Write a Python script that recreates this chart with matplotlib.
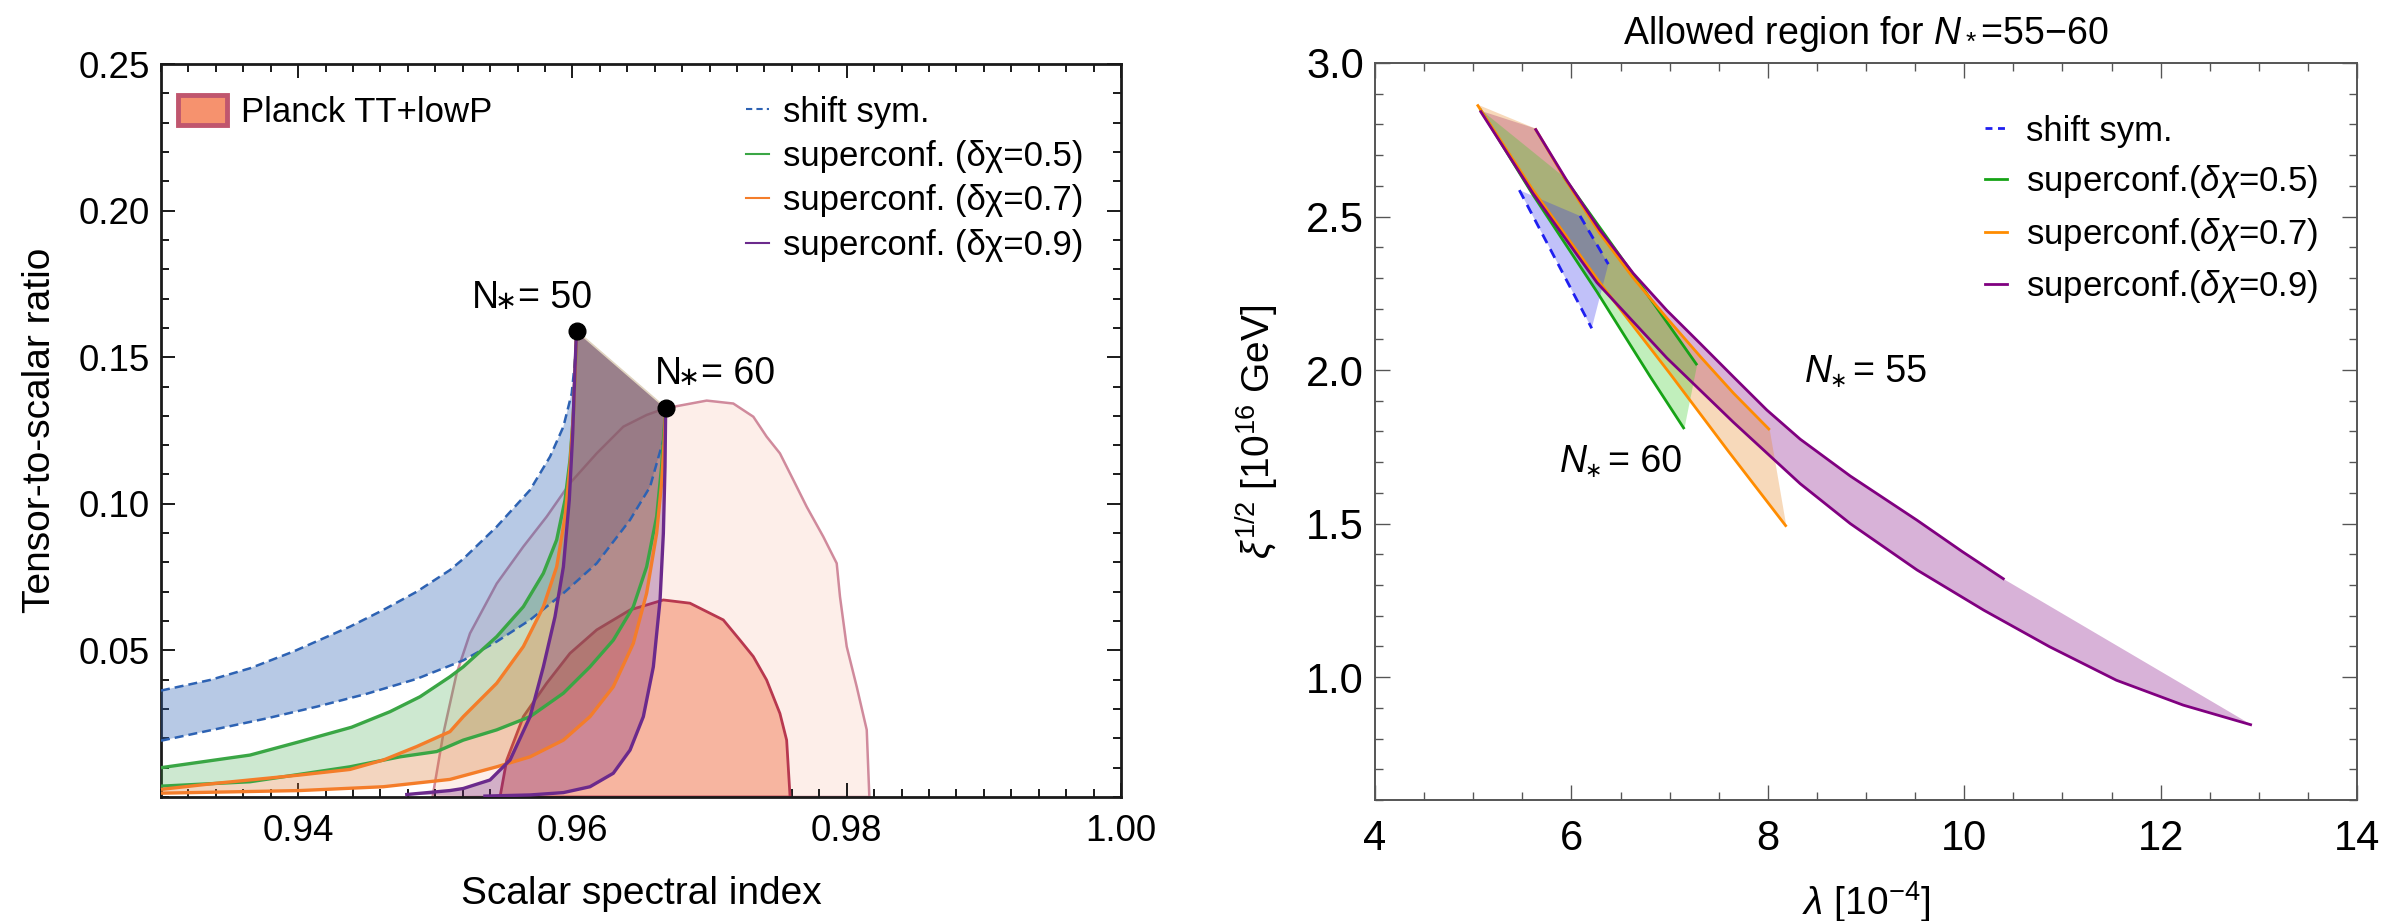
import numpy as np
import matplotlib
matplotlib.use("Agg")
import matplotlib.pyplot as plt
from matplotlib.lines import Line2D
from matplotlib.patches import Patch
from matplotlib.ticker import MultipleLocator, FixedLocator

plt.rcParams['font.family'] = ['Liberation Sans', 'DejaVu Sans']
plt.rcParams['mathtext.fontset'] = 'custom'
plt.rcParams['mathtext.rm'] = 'Liberation Sans'
plt.rcParams['mathtext.it'] = 'Liberation Sans:italic'
plt.rcParams['mathtext.bf'] = 'Liberation Sans:bold'

# ---------------- left panel: (n_s, r) plane ----------------
# shift-symmetric model, N*=50 edge and N*=60 edge
shift_n50_ns = [0.9300, 0.93357, 0.93649, 0.93965, 0.94378, 0.94621, 0.94864, 0.95107, 0.95204,
                0.95448, 0.95691, 0.95837, 0.95934, 0.95995, 0.96019, 0.9603]
shift_n50_r = [0.0363, 0.0399, 0.0439, 0.0496, 0.0581, 0.0638, 0.0700, 0.0774, 0.0812,
               0.0922, 0.1047, 0.1161, 0.1263, 0.1377, 0.1490, 0.159]
shift_n60_ns = [0.9300, 0.93406, 0.9377, 0.94135, 0.9450, 0.94865, 0.95204, 0.95448, 0.95691,
                0.95934, 0.96177, 0.96420, 0.96566, 0.96663, 0.9668]
shift_n60_r = [0.0192, 0.0232, 0.0268, 0.0308, 0.0352, 0.0403, 0.0466, 0.0530, 0.0604,
               0.0695, 0.0797, 0.0945, 0.1058, 0.1218, 0.1327]

# superconformal, delta chi = 0.5
sc05_n50_ns = [0.9300, 0.93649, 0.94014, 0.9439, 0.9467, 0.94889, 0.95107, 0.95204, 0.95448,
               0.95642, 0.95788, 0.95885, 0.95946, 0.95982, 0.96006, 0.96021, 0.9603]
sc05_n50_r = [0.0100, 0.0143, 0.0189, 0.0238, 0.0291, 0.0342, 0.0410, 0.0444, 0.0547,
              0.0649, 0.0763, 0.0877, 0.1013, 0.1149, 0.1297, 0.1468, 0.159]
sc05_n60_ns = [0.9300, 0.93649, 0.94378, 0.94743, 0.9501, 0.95204, 0.95448, 0.95691, 0.95934,
               0.96128, 0.96298, 0.96444, 0.96541, 0.96614, 0.9665, 0.9667, 0.9668]
sc05_n60_r = [0.0037, 0.0052, 0.0103, 0.0137, 0.0155, 0.0194, 0.0229, 0.0274, 0.0354,
              0.0444, 0.0535, 0.0649, 0.0785, 0.0956, 0.1126, 0.1263, 0.1327]

# superconformal, delta chi = 0.7
sc07_n50_ns = [0.9300, 0.93406, 0.94014, 0.94378, 0.94621, 0.94864, 0.95107, 0.95204, 0.95448,
               0.95642, 0.95788, 0.95885, 0.95946, 0.95982, 0.96006, 0.96021, 0.9603]
sc07_n50_r = [0.0026, 0.0047, 0.0075, 0.0094, 0.0126, 0.0172, 0.0223, 0.0274, 0.0388,
              0.0513, 0.0649, 0.0785, 0.0956, 0.1126, 0.1297, 0.1468, 0.159]
sc07_n60_ns = [0.9300, 0.94014, 0.94621, 0.95107, 0.95448, 0.95691, 0.95934, 0.96128, 0.96298,
               0.96444, 0.96541, 0.96614, 0.9665, 0.9667, 0.9668]
sc07_n60_r = [0.0013, 0.0022, 0.0035, 0.0060, 0.0103, 0.0137, 0.0194, 0.0274, 0.0376,
              0.0524, 0.0695, 0.0899, 0.1070, 0.1218, 0.1327]

# superconformal, delta chi = 0.9
sc09_n50_ns = [0.9478, 0.95107, 0.95204, 0.95399, 0.95545, 0.95691, 0.95788, 0.95873, 0.95934,
               0.95977, 0.96002, 0.96019, 0.9603]
sc09_n50_r = [0.0008, 0.0022, 0.0029, 0.0058, 0.0126, 0.0274, 0.0444, 0.0615, 0.0785,
              0.1013, 0.1240, 0.1468, 0.159]
sc09_n60_ns = [0.9535, 0.95691, 0.95934, 0.96128, 0.96298, 0.9642, 0.96517, 0.9659, 0.96639,
               0.96663, 0.96675, 0.9668]
sc09_n60_r = [0.0003, 0.0007, 0.0015, 0.0035, 0.0081, 0.0160, 0.0274, 0.0444, 0.0672,
              0.0899, 0.1126, 0.1327]

# end points of the predictions
efold_ns = [0.9603, 0.9668]
efold_r = [0.159, 0.1327]
efold_values = ["50", "60"]

# Planck TT+lowP contours
planck95_ns = [0.9498, 0.95059, 0.95156, 0.95253, 0.95448, 0.95642, 0.95812, 0.95982, 0.96177,
               0.96371, 0.96541, 0.9668, 0.96979, 0.97173, 0.97319, 0.97416, 0.97513, 0.97611,
               0.97708, 0.97829, 0.97927, 0.97951, 0.9800, 0.98073, 0.98146, 0.98165]
planck95_r = [0.0, 0.0217, 0.0422, 0.0558, 0.0728, 0.0854, 0.0956, 0.1070, 0.1172,
              0.1263, 0.1303, 0.1326, 0.1352, 0.1342, 0.1297, 0.1229, 0.1172, 0.1081,
              0.0990, 0.0888, 0.0797, 0.0683, 0.0513, 0.0376, 0.0229, 0.0]
planck68_ns = [0.95472, 0.95521, 0.95642, 0.95812, 0.95982, 0.96177, 0.9642, 0.96663, 0.96857,
               0.9710, 0.97222, 0.97319, 0.97416, 0.97513, 0.97562, 0.97587]
planck68_r = [0.0, 0.0126, 0.0274, 0.0388, 0.0490, 0.0570, 0.0638, 0.0672, 0.0661,
              0.0604, 0.0535, 0.0479, 0.0399, 0.0285, 0.0194, 0.0]

left_xticks = [0.94, 0.96, 0.98, 1.00]
left_yticks = [0.05, 0.10, 0.15, 0.20, 0.25]
left_legend_labels = ["shift sym.", "superconf. (δχ=0.5)", "superconf. (δχ=0.7)",
                      "superconf. (δχ=0.9)"]

# ---------------- right panel: (lambda, xi^1/2) plane ----------------
r_shift_a_lam = [5.47, 6.207]
r_shift_a_xi = [2.586, 2.136]
r_shift_b_lam = [6.088, 6.376]
r_shift_b_xi = [2.502, 2.345]

r_sc05_lo_lam = [5.07, 5.60, 6.26, 6.80, 7.15]
r_sc05_lo_xi = [2.85, 2.575, 2.255, 1.98, 1.808]
r_sc05_hi_lam = [5.92, 6.60, 7.28]
r_sc05_hi_xi = [2.63, 2.325, 2.016]

r_sc07_lo_lam = [5.04, 5.60, 6.30, 7.00, 7.60, 8.19]
r_sc07_lo_xi = [2.865, 2.59, 2.28, 1.99, 1.735, 1.49]
r_sc07_hi_lam = [5.63, 5.95, 6.29, 6.63, 6.97, 7.31, 7.65, 8.02]
r_sc07_hi_xi = [2.787, 2.615, 2.445, 2.30, 2.17, 2.045, 1.925, 1.805]

r_sc09_lo_lam = [5.07, 5.61, 6.26, 6.97, 7.65, 8.33, 8.84, 9.52, 10.20, 10.87, 11.55, 12.23, 12.93]
r_sc09_lo_xi = [2.845, 2.575, 2.285, 2.04, 1.83, 1.63, 1.50, 1.349, 1.218, 1.099, 0.990, 0.909, 0.844]
r_sc09_hi_lam = [5.63, 5.95, 6.29, 6.63, 6.97, 7.31, 7.65, 7.99, 8.33, 8.84, 9.52, 9.98, 10.41]
r_sc09_hi_xi = [2.787, 2.619, 2.456, 2.315, 2.195, 2.087, 1.978, 1.870, 1.775, 1.655, 1.511, 1.409, 1.318]

right_efold_values = ["55", "60"]
right_legend_labels = ["shift sym.", r"superconf.($\delta\chi$=0.5)",
                       r"superconf.($\delta\chi$=0.7)", r"superconf.($\delta\chi$=0.9)"]

# ---------------- styling ----------------
L_BLUE, L_GREEN, L_ORANGE, L_PURPLE = "#2d62b3", "#3aa645", "#f47d2a", "#6b2a8c"
R_BLUE, R_GREEN, R_ORANGE, R_PURPLE = "#1f1ff0", "#16a316", "#ff8c00", "#800080"


def band(ax, xh, yh, xl, yl, color, alpha, z):
    xs = np.concatenate([np.asarray(xh), np.asarray(xl)[::-1]])
    ys = np.concatenate([np.asarray(yh), np.asarray(yl)[::-1]])
    ax.fill(xs, ys, facecolor=color, alpha=alpha, lw=0, zorder=z)


def efold_label(ax, x, y, value, size, italic, star_dx, star_dy, star_size, eq_dx):
    """Write 'N* = value' with the asterisk set low, as a subscript."""
    kw = dict(xycoords='data', textcoords='offset points', annotation_clip=False, zorder=11)
    ax.annotate("N", (x, y), xytext=(0, 0), fontsize=size, ha='left', va='baseline',
                style='italic' if italic else 'normal', **kw)
    ax.annotate("\u2217", (x, y), xytext=(star_dx, star_dy), fontsize=star_size,
                ha='center', va='center', family=['DejaVu Sans'], **kw)
    ax.annotate("= " + value, (x, y), xytext=(eq_dx, 0), fontsize=size, ha='left',
                va='baseline', **kw)


def style_axes(ax, color, lw, major_len, minor_len, size):
    for sp in ax.spines.values():
        sp.set_color(color)
        sp.set_linewidth(lw)
    ax.tick_params(which='both', direction='in', top=True, right=True, color=color,
                   width=lw * 0.7, labelsize=size)
    ax.tick_params(which='major', length=major_len)
    ax.tick_params(which='minor', length=minor_len)


fig = plt.figure(figsize=(24, 9.21), dpi=100)

# ---------- left ----------
axl = fig.add_axes([161 / 2400, 124 / 921, 960 / 2400, 733 / 921])
axl.set_xlim(0.93, 1.00)
axl.set_ylim(0.0, 0.25)

axl.fill(planck95_ns, planck95_r, facecolor="#fdeee9", edgecolor="#d08a9c", lw=1.8, zorder=1)
axl.fill(planck68_ns, planck68_r, facecolor="#f7b5a0", edgecolor="#b8384f", lw=2.0, zorder=2)

band(axl, shift_n50_ns, shift_n50_r, shift_n60_ns, shift_n60_r, L_BLUE, 0.34, 3)
band(axl, sc05_n50_ns, sc05_n50_r, sc05_n60_ns, sc05_n60_r, L_GREEN, 0.25, 4)
band(axl, sc07_n50_ns, sc07_n50_r, sc07_n60_ns, sc07_n60_r, "#d8742e", 0.30, 5)
band(axl, sc09_n50_ns, sc09_n50_r, sc09_n60_ns, sc09_n60_r, "#7a2a80", 0.32, 6)

dash = (0, (3.6, 2.0))
axl.plot(shift_n50_ns, shift_n50_r, color=L_BLUE, lw=1.8, ls=dash, zorder=8)
axl.plot(shift_n60_ns, shift_n60_r, color=L_BLUE, lw=1.8, ls=dash, zorder=8)
for xs, ys, c in [(sc05_n50_ns, sc05_n50_r, L_GREEN), (sc05_n60_ns, sc05_n60_r, L_GREEN),
                  (sc07_n50_ns, sc07_n50_r, L_ORANGE), (sc07_n60_ns, sc07_n60_r, L_ORANGE),
                  (sc09_n50_ns, sc09_n50_r, L_PURPLE), (sc09_n60_ns, sc09_n60_r, L_PURPLE)]:
    axl.plot(xs, ys, color=c, lw=2.4, zorder=9, solid_capstyle='butt')
axl.plot(efold_ns, efold_r, color="#e0d4c0", lw=1.2, zorder=9)
axl.plot(efold_ns, efold_r, 'o', color='black', ms=12, zorder=10)
for (x, y), val in zip([(0.95268, 0.1668), (0.96602, 0.1410)], efold_values):
    efold_label(axl, x, y, val, 27, False, 24.5, 4, 19, 33)

axl.xaxis.set_major_locator(FixedLocator(left_xticks))
axl.xaxis.set_minor_locator(MultipleLocator(0.002))
axl.yaxis.set_major_locator(FixedLocator(left_yticks))
axl.yaxis.set_minor_locator(MultipleLocator(0.01))
axl.set_xticklabels([f"{v:.2f}" for v in left_xticks])
axl.set_yticklabels([f"{v:.2f}" for v in left_yticks])
style_axes(axl, "#1a1a1a", 2.0, 10, 6, 26.5)
axl.tick_params(axis='x', pad=12)
axl.tick_params(axis='y', pad=8)
axl.set_xlabel("Scalar spectral index", fontsize=28, labelpad=20)
axl.set_ylabel("Tensor-to-scalar ratio", fontsize=28, labelpad=15)

planck_leg = axl.legend([Patch(facecolor="#f6926e", edgecolor="#c0566e", lw=3.5)],
                        ["Planck TT+lowP"], loc='upper left', bbox_to_anchor=(0.018, 0.958),
                        frameon=False, fontsize=25, handlelength=1.4, handleheight=0.95,
                        handletextpad=0.4, borderpad=0, borderaxespad=0)
axl.add_artist(planck_leg)
left_handles = [Line2D([], [], color=L_BLUE, lw=1.5, ls=(0, (3, 2))),
                Line2D([], [], color=L_GREEN, lw=1.5),
                Line2D([], [], color=L_ORANGE, lw=1.5),
                Line2D([], [], color=L_PURPLE, lw=1.5)]
axl.legend(left_handles, left_legend_labels, loc='upper left', bbox_to_anchor=(0.609, 0.957),
           frameon=False, fontsize=25, handlelength=0.68, handletextpad=0.4,
           labelspacing=0.33, borderpad=0, borderaxespad=0)

# ---------- right ----------
axr = fig.add_axes([1375 / 2400, 121 / 921, 982 / 2400, 737 / 921])
axr.set_xlim(4, 14)
axr.set_ylim(0.6, 3.0)

band(axr, r_sc09_lo_lam, r_sc09_lo_xi, r_sc09_hi_lam, r_sc09_hi_xi, R_PURPLE, 0.30, 2)
band(axr, r_sc07_lo_lam, r_sc07_lo_xi, r_sc07_hi_lam, r_sc07_hi_xi, "#e88a2a", 0.32, 3)
band(axr, r_sc05_lo_lam, r_sc05_lo_xi, r_sc05_hi_lam, r_sc05_hi_xi, "#33cc22", 0.30, 4)
band(axr, r_shift_a_lam, r_shift_a_xi, r_shift_b_lam, r_shift_b_xi, "#3333ee", 0.30, 5)

for xs, ys, c in [(r_sc05_lo_lam, r_sc05_lo_xi, R_GREEN), (r_sc05_hi_lam, r_sc05_hi_xi, R_GREEN),
                  (r_sc07_lo_lam, r_sc07_lo_xi, R_ORANGE), (r_sc07_hi_lam, r_sc07_hi_xi, R_ORANGE),
                  (r_sc09_lo_lam, r_sc09_lo_xi, R_PURPLE), (r_sc09_hi_lam, r_sc09_hi_xi, R_PURPLE)]:
    axr.plot(xs, ys, color=c, lw=2.0, zorder=8, solid_capstyle='butt')
axr.plot(r_shift_a_lam, r_shift_a_xi, color=R_BLUE, lw=2.0, ls=(0, (3.5, 2.5)), zorder=9)
axr.plot(r_shift_b_lam, r_shift_b_xi, color=R_BLUE, lw=2.0, ls=(0, (3.5, 2.5)), zorder=9)

for (x, y), val in zip([(8.379, 1.962), (5.884, 1.669)], right_efold_values):
    efold_label(axr, x, y, val, 27, True, 23.5, 0.5, 15, 34.5)
axr.set_title("Allowed region for $N_*$=55\u221260", fontsize=27, pad=14)

axr.xaxis.set_major_locator(MultipleLocator(2))
axr.xaxis.set_minor_locator(MultipleLocator(0.5))
axr.yaxis.set_major_locator(FixedLocator([1.0, 1.5, 2.0, 2.5, 3.0]))
axr.yaxis.set_minor_locator(MultipleLocator(0.1))
axr.yaxis.set_major_formatter(plt.FormatStrFormatter('%.1f'))
style_axes(axr, "#555555", 1.4, 11, 6, 30)
axr.tick_params(axis='x', pad=14)
axr.tick_params(axis='y', pad=8)
axr.set_xlabel(r"$\lambda$ [10$^{-4}$]", fontsize=28, labelpad=14)
axr.set_ylabel(r"$\xi^{1/2}$ [10$^{16}$ GeV]", fontsize=28, labelpad=18)

right_handles = [Line2D([], [], color=R_BLUE, lw=2.0, ls=(0, (2.5, 2))),
                 Line2D([], [], color=R_GREEN, lw=2.0),
                 Line2D([], [], color=R_ORANGE, lw=2.0),
                 Line2D([], [], color=R_PURPLE, lw=2.0)]
axr.legend(right_handles, right_legend_labels, loc='upper left', bbox_to_anchor=(0.621, 0.93),
           frameon=False, fontsize=25, handlelength=0.65, handletextpad=0.55,
           labelspacing=0.45, borderpad=0, borderaxespad=0)

fig.savefig("out.png", dpi=100)
